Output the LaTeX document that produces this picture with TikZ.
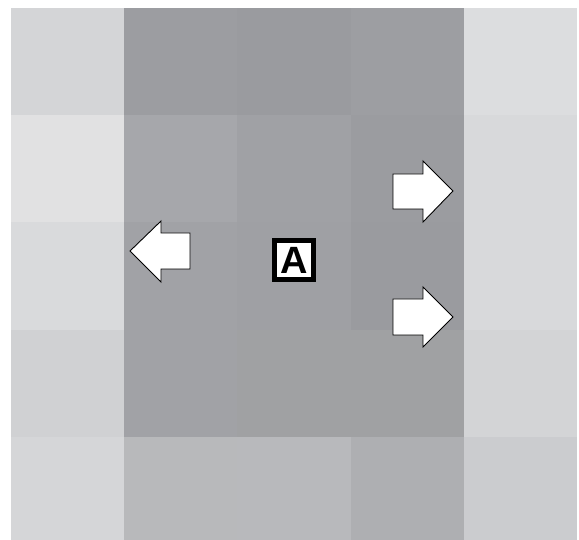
\documentclass[tikz,border=0pt]{standalone}
\usepackage{fontspec}
\setmainfont{Liberation Sans}
\begin{document}
\begin{tikzpicture}[x=1pt,y=-1pt,
  arrowshape/.style={fill=white,draw=black,line width=0.9pt,line join=miter},
  labelbox/.style={draw=black,line width=5pt,fill=white,minimum size=39pt,inner sep=0pt,
    font=\fontsize{38}{38}\selectfont\bfseries}]
\useasboundingbox (0,0) rectangle (579,540);
\fill[white] (0,0) rectangle (579,540);
% column edges
\def\xa{11}\def\xb{124}\def\xc{237}\def\xd{351}\def\xe{464}\def\xf{577}
\def\ya{8}\def\yb{115}\def\yc{222}\def\yd{330}\def\ye{437}\def\yf{540}
\definecolor{r1c1}{HTML}{D4D5D7}\definecolor{r1c2}{HTML}{9C9DA1}\definecolor{r1c3}{HTML}{9A9B9F}\definecolor{r1c4}{HTML}{9D9EA2}\definecolor{r1c5}{HTML}{DCDDDF}
\definecolor{r2c1}{HTML}{E1E1E2}\definecolor{r2c2}{HTML}{A6A7AB}\definecolor{r2c3}{HTML}{A0A1A5}\definecolor{r2c4}{HTML}{9B9CA0}\definecolor{r2c5}{HTML}{D8D9DB}
\definecolor{r3c1}{HTML}{D9DADC}\definecolor{r3c2}{HTML}{A1A2A6}\definecolor{r3c3}{HTML}{9FA0A4}\definecolor{r3c4}{HTML}{9A9B9F}\definecolor{r3c5}{HTML}{D8D9DB}
\definecolor{r4c1}{HTML}{D0D1D3}\definecolor{r4c2}{HTML}{A1A2A6}\definecolor{r4c3}{HTML}{A0A1A3}\definecolor{r4c4}{HTML}{A0A1A3}\definecolor{r4c5}{HTML}{D3D4D6}
\definecolor{r5c1}{HTML}{D5D6D8}\definecolor{r5c2}{HTML}{B8B9BB}\definecolor{r5c3}{HTML}{B8B9BC}\definecolor{r5c4}{HTML}{AEAFB2}\definecolor{r5c5}{HTML}{CBCCCF}
% row 1
\fill[r1c1] (\xa,\ya) rectangle (\xb,\yb);
\fill[r1c2] (\xb,\ya) rectangle (\xc,\yb);
\fill[r1c3] (\xc,\ya) rectangle (\xd,\yb);
\fill[r1c4] (\xd,\ya) rectangle (\xe,\yb);
\fill[r1c5] (\xe,\ya) rectangle (\xf,\yb);
% row 2
\fill[r2c1] (\xa,\yb) rectangle (\xb,\yc);
\fill[r2c2] (\xb,\yb) rectangle (\xc,\yc);
\fill[r2c3] (\xc,\yb) rectangle (\xd,\yc);
\fill[r2c4] (\xd,\yb) rectangle (\xe,\yc);
\fill[r2c5] (\xe,\yb) rectangle (\xf,\yc);
% row 3
\fill[r3c1] (\xa,\yc) rectangle (\xb,\yd);
\fill[r3c2] (\xb,\yc) rectangle (\xc,\yd);
\fill[r3c3] (\xc,\yc) rectangle (\xd,\yd);
\fill[r3c4] (\xd,\yc) rectangle (\xe,\yd);
\fill[r3c5] (\xe,\yc) rectangle (\xf,\yd);
% row 4
\fill[r4c1] (\xa,\yd) rectangle (\xb,\ye);
\fill[r4c2] (\xb,\yd) rectangle (\xc,\ye);
\fill[r4c3] (\xc,\yd) rectangle (\xd,\ye);
\fill[r4c4] (\xd,\yd) rectangle (\xe,\ye);
\fill[r4c5] (\xe,\yd) rectangle (\xf,\ye);
% row 5
\fill[r5c1] (\xa,\ye) rectangle (\xb,\yf);
\fill[r5c2] (\xb,\ye) rectangle (\xc,\yf);
\fill[r5c3] (\xc,\ye) rectangle (\xd,\yf);
\fill[r5c4] (\xd,\ye) rectangle (\xe,\yf);
\fill[r5c5] (\xe,\ye) rectangle (\xf,\yf);
% left arrow
\draw[arrowshape] (130,251) -- (161,221) -- (161,233) -- (190,233) -- (190,269) -- (161,269) -- (161,282) -- cycle;
% right arrows
\draw[arrowshape] (453,191) -- (423,161) -- (423,174) -- (393,174) -- (393,209) -- (423,209) -- (423,222) -- cycle;
\draw[arrowshape] (453,317) -- (423,287) -- (423,299) -- (393,299) -- (393,335) -- (423,335) -- (423,347) -- cycle;
% label
\node[labelbox] (A) at (294,260.5) {A};
\end{tikzpicture}
\end{document}
